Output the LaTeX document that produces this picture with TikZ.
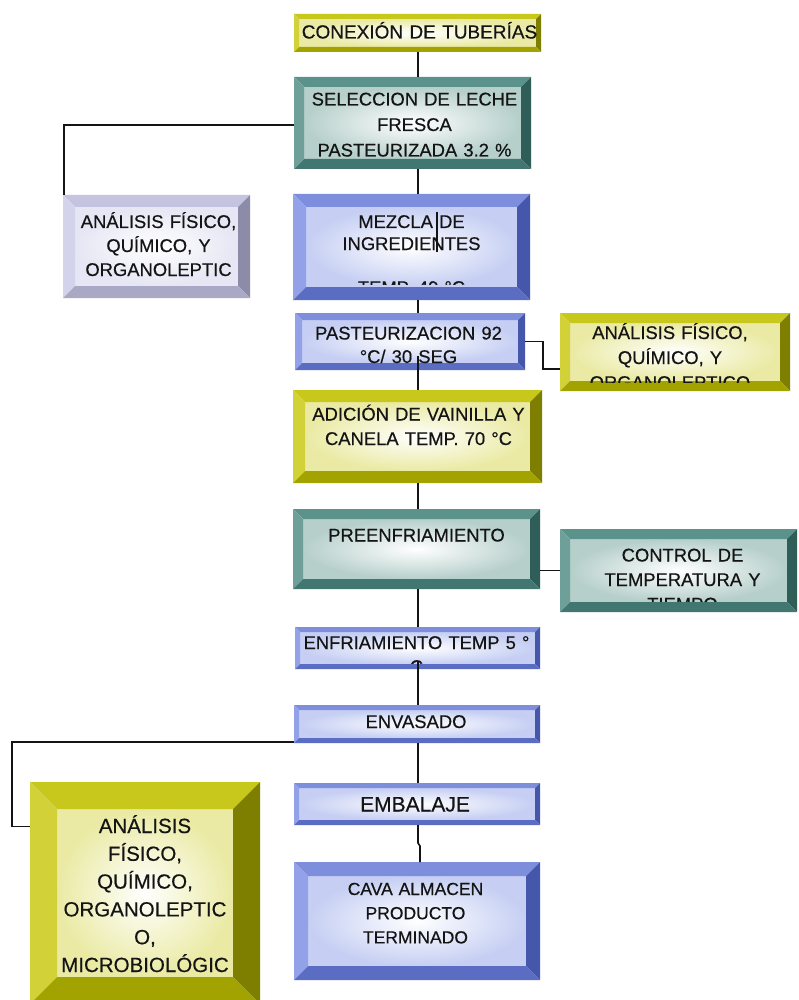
\documentclass[tikz,border=0pt]{standalone}
\usepackage{fontspec}
\setmainfont{Liberation Sans}
\newfontfamily\labelfont{Liberation Sans}[FakeBold=0.45]
\usetikzlibrary{calc}

% bevel palettes: top / left / right / bottom bands and the tint of the face
\definecolor{yeltop}{HTML}{C8C81C}
\definecolor{yelleft}{HTML}{D2D238}
\definecolor{yelright}{HTML}{7E7E00}
\definecolor{yelbot}{HTML}{A2A200}
\definecolor{yelface}{HTML}{EAEAA4}
\definecolor{teatop}{HTML}{5C928C}
\definecolor{tealeft}{HTML}{6E9F99}
\definecolor{tearight}{HTML}{2F5E58}
\definecolor{teabot}{HTML}{427670}
\definecolor{teaface}{HTML}{B6CFCB}
\definecolor{blutop}{HTML}{7D8EDC}
\definecolor{bluleft}{HTML}{92A1E8}
\definecolor{bluright}{HTML}{4557AB}
\definecolor{blubot}{HTML}{5B6DC3}
\definecolor{bluface}{HTML}{C6CFF3}
\definecolor{lavtop}{HTML}{C4C4E0}
\definecolor{lavleft}{HTML}{D3D3EB}
\definecolor{lavright}{HTML}{8C8CA8}
\definecolor{lavbot}{HTML}{A9A9C6}
\definecolor{lavface}{HTML}{E6E6F4}
\definecolor{ink}{HTML}{141414}

% four bevel bands round a shaded face; #1 palette prefix, #2 band width
\newcommand\bevelfaces[2]{%
  \coordinate (bsw) at (path picture bounding box.south west);
  \coordinate (bne) at (path picture bounding box.north east);
  \coordinate (isw) at ([shift={(#2,#2)}]bsw);
  \coordinate (ine) at ([shift={(-#2,-#2)}]bne);
  \shade[inner color=white, outer color=#1face] (isw) rectangle (ine);
  \fill[#1top] (bsw|-bne) -- (bne) -- (ine) -- (isw|-ine) -- cycle;
  \fill[#1left] (bsw) -- (bsw|-bne) -- (isw|-ine) -- (isw) -- cycle;
  \fill[#1right] (bne) -- (bne|-bsw) -- (ine|-isw) -- (ine) -- cycle;
  \fill[#1bot] (bsw) -- (bne|-bsw) -- (ine|-isw) -- (isw) -- cycle;
}

\begin{document}
\begin{tikzpicture}[x=1pt, y=-1pt,
  box/.style 2 args={rectangle, inner sep=0pt, outer sep=0pt, fill=white,
    path picture={\bevelfaces{#1}{#2}}},
  lbl/.style 2 args={inner sep=0pt, outer sep=0pt, anchor=base, text width=300pt,
    align=center, text=ink, font=\labelfont\fontsize{#1}{#2}\selectfont},
  link/.style={draw=ink, line width=1.6pt},
]
\useasboundingbox (0,0) rectangle (799,1000);
\fill[white] (0,0) rectangle (799,1000);

\coordinate (spine) at (418,0);
\coordinate (jog) at (420,0);

% process boxes
\node[box={yel}{5pt},  minimum width=247pt, minimum height=38pt]  (conexion)  at (417.5,33) {};
\node[box={tea}{10pt}, minimum width=237pt, minimum height=92pt]  (seleccion) at (412.5,123) {};
\node[box={lav}{12pt}, minimum width=187pt, minimum height=103pt] (analisisA) at (156.5,246.5) {};
\node[box={blu}{13pt}, minimum width=237pt, minimum height=106pt] (mezcla)    at (411.5,247) {};
\node[box={blu}{7pt},  minimum width=230pt, minimum height=57pt]  (pasteur)   at (410,341.5) {};
\node[box={yel}{10pt}, minimum width=230pt, minimum height=78pt]  (analisisB) at (675,352) {};
\node[box={yel}{12pt}, minimum width=249pt, minimum height=93pt]  (adicion)   at (417.5,436.5) {};
\node[box={tea}{10pt}, minimum width=247pt, minimum height=80pt]  (preenf)    at (416.5,549) {};
\node[box={tea}{10pt}, minimum width=237pt, minimum height=83pt]  (control)   at (678.5,570.5) {};
\node[box={blu}{5pt},  minimum width=245pt, minimum height=42pt]  (enfriam)   at (417.5,648) {};
\node[box={blu}{5pt},  minimum width=246pt, minimum height=38pt]  (envasado)  at (417,724) {};
\node[box={yel}{27pt}, minimum width=230pt, minimum height=222pt] (analisisC) at (145,893) {};
\node[box={blu}{5pt},  minimum width=246pt, minimum height=42pt]  (embalaje)  at (417,804) {};
\node[box={blu}{14pt}, minimum width=246pt, minimum height=118pt] (cava)      at (417,921) {};

% labels
\node[lbl={19}{23}] (conexion-t) at (419.5,38.5) {CONEXIÓN DE TUBERÍAS};
\node[lbl={18.4}{25.5}] (seleccion-t) at (414.5,105.5) {SELECCION DE LECHE\\FRESCA\\PASTEURIZADA 3.2 \%};
\node[lbl={18.4}{24}] (analisisA-t) at (158.5,228) {ANÁLISIS FÍSICO,\\QUÍMICO, Y\\ORGANOLEPTIC};
\begin{scope}
  \clip (mezcla.north west) rectangle ([yshift=15.5pt]mezcla.south east);
  \node[lbl={18.4}{22}] (mezcla-t) at (411.5,228) {MEZCLA DE\\INGREDIENTES\\\mbox{}\\TEMP. 40 °C};
\end{scope}
\node[lbl={18.4}{23.5}] (pasteur-t) at (408.5,339.5) {PASTEURIZACION 92\\°C/ 30 SEG};
\begin{scope}
  \clip (analisisB.north west) rectangle ([yshift=9pt]analisisB.south east);
  \node[lbl={18.4}{25}] (analisisB-t) at (670,339) {ANÁLISIS FÍSICO,\\QUÍMICO, Y\\ORGANOLEPTICO};
\end{scope}
\node[lbl={18.4}{24.5}] (adicion-t) at (418.5,420.5) {ADICIÓN DE VAINILLA Y\\CANELA TEMP. 70 °C};
\node[lbl={18.4}{24}] (preenf-t) at (416.5,541.5) {PREENFRIAMIENTO};
\begin{scope}
  \clip (control.north west) rectangle ([yshift=11pt]control.south east);
  \node[lbl={18.4}{24.5}] (control-t) at (682.5,561.5) {CONTROL DE\\TEMPERATURA Y\\TIEMPO};
\end{scope}
\begin{scope}
  \clip (enfriam.north west) rectangle ([yshift=5.5pt]enfriam.south east);
  \node[lbl={18.4}{24}] (enfriam-t) at (416.5,649) {ENFRIAMIENTO TEMP 5 °\\C};
\end{scope}
\node[lbl={18.4}{24}] (envasado-t) at (416,728) {ENVASADO};
\node[lbl={20.5}{27.8}] (analisisC-t) at (145,833) {ANÁLISIS\\FÍSICO,\\QUÍMICO,\\ORGANOLEPTIC\\O,\\MICROBIOLÓGIC};
\node[lbl={21}{24}] (embalaje-t) at (415,811.5) {EMBALAJE};
\node[lbl={17.5}{24.2}] (cava-t) at (415.5,895) {CAVA ALMACEN\\PRODUCTO\\TERMINADO};

% connectors
\coordinate (pj) at ([yshift=-14.5pt]pasteur.center);
\coordinate (ej) at ([yshift=-13pt]enfriam.center);
\draw[link] (conexion.south -| spine) -- (seleccion.north -| spine);
\draw[link] ([yshift=-2pt]seleccion.west) -| ([xshift=1pt]analisisA.north west);
\draw[link] (seleccion.south -| spine) -- (mezcla.north -| spine);
\draw[link] ([xshift=25.5pt,yshift=35pt]mezcla.center) -- ++(0,40);
\draw[link] (mezcla.south -| spine) -- (pasteur.north -| spine);
\draw[link] (pj -| spine) -- (adicion.north -| spine);
\draw[link] (pasteur.east) -- ++(18,0) |- ([yshift=-17pt]analisisB.west);
\draw[link] (adicion.south -| spine) -- (preenf.north -| spine);
\draw[link] (control.west -| preenf.east) -- (control.west);
\draw[link] (preenf.south -| spine) -- (enfriam.north -| spine);
\draw[link, line width=2.8pt] (ej -| spine) -- (envasado.north -| spine);
\draw[link] ([yshift=1pt]envasado.south west) -| ([xshift=-18pt,yshift=66.5pt]analisisC.west)
            -- ([yshift=66.5pt]analisisC.west);
\draw[link] (envasado.south -| spine) -- (embalaje.north -| spine);
\draw[link] (embalaje.south -| spine) -- ++(0,18) -- ++(2,3) -- (cava.north -| jog);
\end{tikzpicture}
\end{document}
